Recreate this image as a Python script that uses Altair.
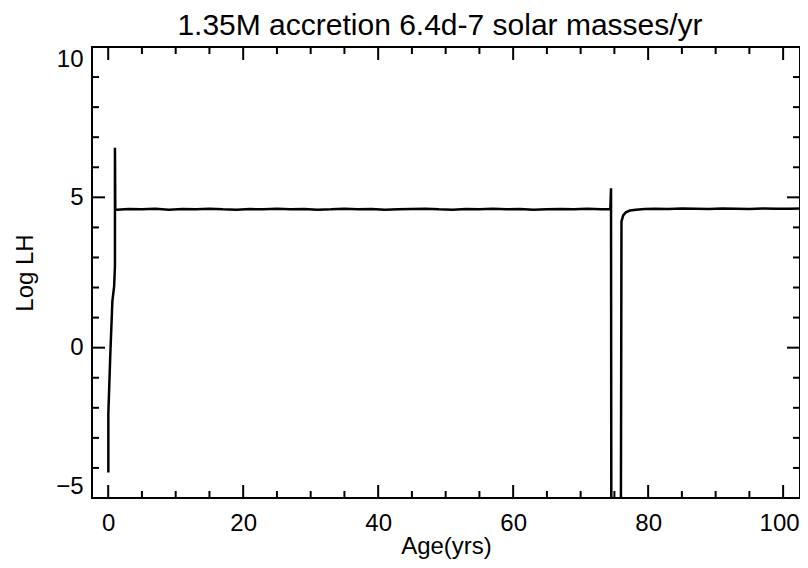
import altair as alt
import pandas as pd

# ---- data ----
age = [0.02, 0.02, 0.30, 0.62, 0.88, 1.00, 1.00, 1.05, 1.30,
       3, 5, 7, 9, 11, 13, 15, 17, 19, 21,
       23, 25, 27, 29, 31, 33, 35, 37, 39, 41,
       43, 45, 47, 49, 51, 53, 55, 57, 59, 61,
       63, 65, 67, 69, 71, 73,
       74.40, 74.50, 74.55,
       75.95, 76.05, 76.30, 76.70, 77.30, 78.20, 79.50,
       81, 83, 85, 87, 89, 91, 93, 95, 97, 99, 101,
       102.5]

log_lh = [-4.15, -2.20, -0.30, 1.55, 2.05, 2.70, 6.65, 4.60, 4.59,
          4.61, 4.60, 4.62, 4.59, 4.61, 4.60, 4.62, 4.60, 4.59, 4.61,
          4.60, 4.62, 4.60, 4.61, 4.59, 4.60, 4.62, 4.60, 4.61, 4.59,
          4.60, 4.61, 4.62, 4.60, 4.59, 4.61, 4.60, 4.62, 4.60, 4.61,
          4.59, 4.60, 4.61, 4.60, 4.62, 4.60,
          4.61, 5.30, -7.0,
          -7.0, 4.20, 4.40, 4.50, 4.56, 4.59, 4.61,
          4.62, 4.61, 4.63, 4.62, 4.61, 4.63, 4.62, 4.61, 4.63, 4.62, 4.62,
          4.63]

x_major = [0, 20, 40, 60, 80, 100]
x_minor = [5, 10, 15, 25, 30, 35, 45, 50, 55, 65, 70, 75, 85, 90, 95]
y_major = [-5, 0, 5, 10]
y_minor = [-4, -3, -2, -1, 1, 2, 3, 4, 6, 7, 8, 9]

title_text = "1.35M accretion 6.4d-7 solar masses/yr"
x_title = "Age(yrs)"
y_title = "Log LH"

# ---- layout ----
W, H = 708, 451
FONT = "Liberation Sans"
MAJ, MIN = 13, 7
LFS = 24

xscale = alt.Scale(domain=[-2.4, 102.5], nice=False, zero=False)
yscale = alt.Scale(domain=[-5, 10], nice=False, zero=False)

x_axis = alt.Axis(title=x_title, values=x_major, ticks=False, domain=False,
                  grid=False, labelFontSize=LFS, labelFont=FONT, labelColor="black",
                  labelPadding=13, labelFlush=False,
                  labelOffset={"condition": {"test": "datum.value >= 100", "value": -4},
                               "value": 0},
                  titleFontSize=LFS, titleFont=FONT, titleFontWeight="normal",
                  titleColor="black", titleX=354,
                  titleY=55, titleBaseline="alphabetic", titleAlign="center")
y_axis = alt.Axis(title=y_title, values=y_major, ticks=False, domain=False,
                  grid=False, labelFontSize=LFS, labelFont=FONT, labelColor="black",
                  labelPadding=9, labelFlush=True, labelFlushOffset=0,
                  titleFontSize=LFS, titleFont=FONT, titleFontWeight="normal",
                  titleColor="black", titleX=-67, titleY=H / 2,
                  titleAngle=-90, titleBaseline="middle", titleAlign="center")

df = pd.DataFrame({"age": age, "lh": log_lh, "i": list(range(len(age)))})

line = alt.Chart(df).mark_line(color="black", strokeWidth=2.5, clip=True).encode(
    x=alt.X("age:Q", scale=xscale, axis=x_axis),
    y=alt.Y("lh:Q", scale=yscale, axis=y_axis),
    order=alt.Order("i:Q"),
)


def xticks(vals, length):
    d = pd.DataFrame({"v": vals})
    bottom = alt.Chart(d).mark_rule(color="black", strokeWidth=2).encode(
        x=alt.X("v:Q", scale=xscale, axis=x_axis),
        y=alt.value(H), y2=alt.value(H - length))
    top = alt.Chart(d).mark_rule(color="black", strokeWidth=2).encode(
        x=alt.X("v:Q", scale=xscale, axis=x_axis),
        y=alt.value(0), y2=alt.value(length))
    return [bottom, top]


def yticks(vals, length):
    d = pd.DataFrame({"v": vals})
    left = alt.Chart(d).mark_rule(color="black", strokeWidth=2).encode(
        y=alt.Y("v:Q", scale=yscale, axis=y_axis),
        x=alt.value(0), x2=alt.value(length))
    right = alt.Chart(d).mark_rule(color="black", strokeWidth=2).encode(
        y=alt.Y("v:Q", scale=yscale, axis=y_axis),
        x=alt.value(W), x2=alt.value(W - length))
    return [left, right]


chart = alt.layer(
    line,
    *xticks(x_major, MAJ), *xticks(x_minor, MIN),
    *yticks(y_major, MAJ), *yticks(y_minor, MIN),
).properties(
    width=W, height=H,
    title=alt.TitleParams(title_text, fontSize=30, font=FONT, fontWeight="normal",
                          color="black", anchor="middle", offset=5, dx=-6),
    autosize=alt.AutoSizeParams(type="none"),
    padding={"left": 84, "top": 39, "right": 0, "bottom": 62},
    background="white",
).configure_view(
    stroke="black", strokeWidth=2
)

chart.save("out.html", embed_options={"renderer": "svg", "actions": False})
